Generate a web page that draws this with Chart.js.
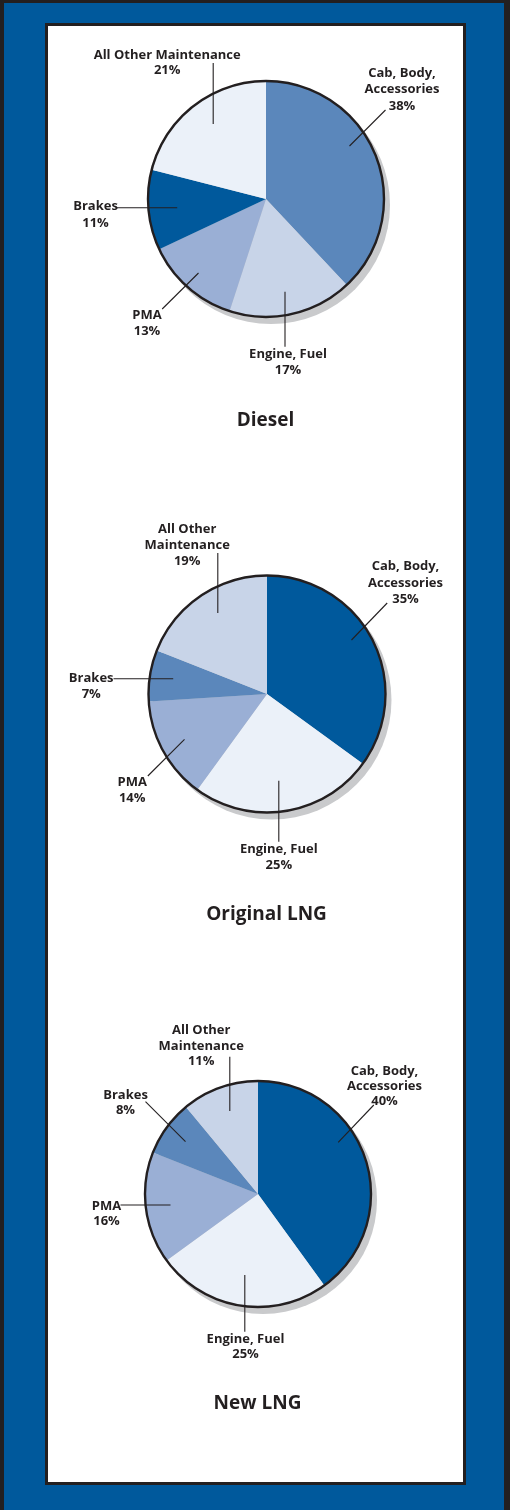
<!DOCTYPE html>
<html>
<head>
<meta charset="utf-8">
<script src="https://cdn.jsdelivr.net/npm/chart.js@4.4.1/dist/chart.umd.min.js"></script>
<style>
  html, body { margin: 0; padding: 0; }
  body { width: 510px; height: 1510px; position: relative; overflow: hidden; background: #00599c; }
  .frame { position: absolute; left: 0; top: 0; width: 510px; height: 1510px; box-sizing: border-box;
           border-left: 4px solid #231f20; border-top: 3px solid #231f20; border-right: 6px solid #231f20; }
  .panel { position: absolute; left: 45px; top: 23px; width: 421px; height: 1462px; box-sizing: border-box;
           background: #fff; border: 3px solid #231f20; }
  canvas { position: absolute; }
  .title { position: absolute; width: 200px; text-align: center; font: 700 19px "Open Sans", sans-serif;
           color: #231f20; line-height: 22px; }
</style>
</head>
<body>
<div class="frame"></div>
<div class="panel"></div>
<canvas id="c0" width="420" height="420"></canvas>
<canvas id="c1" width="420" height="420"></canvas>
<canvas id="c2" width="420" height="420"></canvas>
<div class="title" id="t0"></div>
<div class="title" id="t1"></div>
<div class="title" id="t2"></div>
<script>
// data
const categories = ['Cab, Body, Accessories', 'Engine, Fuel', 'PMA', 'Brakes', 'All Other Maintenance'];
const dieselShare = [38, 17, 13, 11, 21];
const originalLngShare = [35, 25, 14, 7, 19];
const newLngShare = [40, 25, 16, 8, 11];
const chartTitles = ['Diesel', 'Original LNG', 'New LNG'];

const DARK = '#00599c', MID = '#5b87bb', SOFT = '#9aafd5', PALE = '#c8d4e8', WHITE = '#ebf1f9';

// per chart: center on page, radius, slice colours and label layout (offsets from pie centre)
const charts = [
  {
    values: dieselShare, cx: 265.5, cy: 199, r: 118, titleY: 419,
    colors: [MID, PALE, SOFT, DARK, WHITE],
    labels: [
      { lines: ['Cab, Body,', 'Accessories'], x: 136, y: -126, gap: 16.5, line: [119.5, -89, 83.5, -53] },
      { lines: ['Engine, Fuel'], x: 22, y: 155, gap: 16.5, line: [19, 92.7, 19, 147.7] },
      { lines: ['PMA'], x: -119, y: 116.7, gap: 16, line: [-103.8, 110, -67.5, 74] },
      { lines: ['Brakes'], x: -170.5, y: 7.7, gap: 16.3, line: [-149.5, 8.7, -88.8, 8.7] },
      { lines: ['All Other Maintenance'], x: -98.8, y: -144, gap: 15.7, line: [-52.8, -136, -52.8, -75] }
    ]
  },
  {
    values: originalLngShare, cx: 266.5, cy: 694, r: 118.5, titleY: 913,
    colors: [DARK, WHITE, SOFT, MID, PALE],
    labels: [
      { lines: ['Cab, Body,', 'Accessories'], x: 138.5, y: -127.3, gap: 16.2, line: [120.2, -91, 84.5, -54] },
      { lines: ['Engine, Fuel'], x: 11.8, y: 155, gap: 16.7, line: [11.8, 86.7, 11.8, 147.7] },
      { lines: ['PMA'], x: -134.8, y: 88.7, gap: 15.5, line: [-119.2, 82, -82.5, 45.3] },
      { lines: ['Brakes'], x: -175.8, y: -15.7, gap: 15.7, line: [-153.5, -15.3, -93.8, -15.3] },
      { lines: ['All Other', 'Maintenance'], x: -79.8, y: -165, gap: 16, line: [-49.2, -141, -49.2, -81] }
    ]
  },
  {
    values: newLngShare, cx: 257.5, cy: 1194, r: 113, titleY: 1402,
    colors: [DARK, WHITE, SOFT, MID, PALE],
    labels: [
      { lines: ['Cab, Body,', 'Accessories'], x: 126.5, y: -123, gap: 14.9, line: [115.8, -89, 80.2, -51.7] },
      { lines: ['Engine, Fuel'], x: -12.5, y: 145, gap: 15, line: [-13.2, 81, -13.2, 137.7] },
      { lines: ['PMA'], x: -151.5, y: 12, gap: 15.7, line: [-137.5, 11, -87.5, 11] },
      { lines: ['Brakes'], x: -132.5, y: -99, gap: 15, line: [-112.5, -92.3, -72.5, -52.3] },
      { lines: ['All Other', 'Maintenance'], x: -56.8, y: -163.3, gap: 15.1, line: [-28.2, -137.3, -28.2, -83] }
    ]
  }
];

const SIZE = 420;

// shadow behind the pie, outline around it, labels with leader lines
const pieDecor = {
  id: 'pieDecor',
  beforeDatasetsDraw(chart) {
    const arc = chart.getDatasetMeta(0).data[0];
    const ctx = chart.ctx;
    ctx.save();
    ctx.fillStyle = '#c9cacc';
    ctx.beginPath();
    ctx.arc(arc.x + 5, arc.y + 6, arc.outerRadius + 1, 0, Math.PI * 2);
    ctx.fill();
    ctx.restore();
  },
  afterDatasetsDraw(chart, args, opts) {
    const arc = chart.getDatasetMeta(0).data[0];
    const ctx = chart.ctx;
    const cx = arc.x, cy = arc.y;
    ctx.save();
    ctx.strokeStyle = '#231f20';
    ctx.lineWidth = 2.4;
    ctx.beginPath();
    ctx.arc(cx, cy, arc.outerRadius, 0, Math.PI * 2);
    ctx.stroke();

    const values = chart.data.datasets[0].data;
    ctx.lineWidth = 1.1;
    ctx.fillStyle = '#231f20';
    ctx.font = '700 13px "Open Sans", sans-serif';
    ctx.textAlign = 'center';
    ctx.textBaseline = 'middle';
    opts.labels.forEach((lb, i) => {
      const l = lb.line;
      ctx.beginPath();
      ctx.moveTo(cx + l[0], cy + l[1]);
      ctx.lineTo(cx + l[2], cy + l[3]);
      ctx.stroke();
      const rows = lb.lines.concat([values[i] + '%']);
      rows.forEach((t, k) => ctx.fillText(t, cx + lb.x, cy + lb.y + k * lb.gap));
    });
    ctx.restore();
  }
};

charts.forEach((c, idx) => {
  const cv = document.getElementById('c' + idx);
  cv.style.left = (c.cx - SIZE / 2) + 'px';
  cv.style.top = (c.cy - SIZE / 2) + 'px';
  const t = document.getElementById('t' + idx);
  t.textContent = chartTitles[idx];
  t.style.left = (c.cx - 100) + 'px';
  t.style.top = (c.titleY - 11) + 'px';

  new Chart(cv.getContext('2d'), {
    type: 'pie',
    data: {
      labels: categories,
      datasets: [{
        data: c.values,
        backgroundColor: c.colors,
        borderWidth: 0,
        radius: c.r
      }]
    },
    options: {
      responsive: false,
      animation: false,
      events: [],
      layout: { padding: 0 },
      plugins: {
        legend: { display: false },
        tooltip: { enabled: false },
        pieDecor: { labels: c.labels }
      }
    },
    plugins: [pieDecor]
  });
});
</script>
</body>
</html>
